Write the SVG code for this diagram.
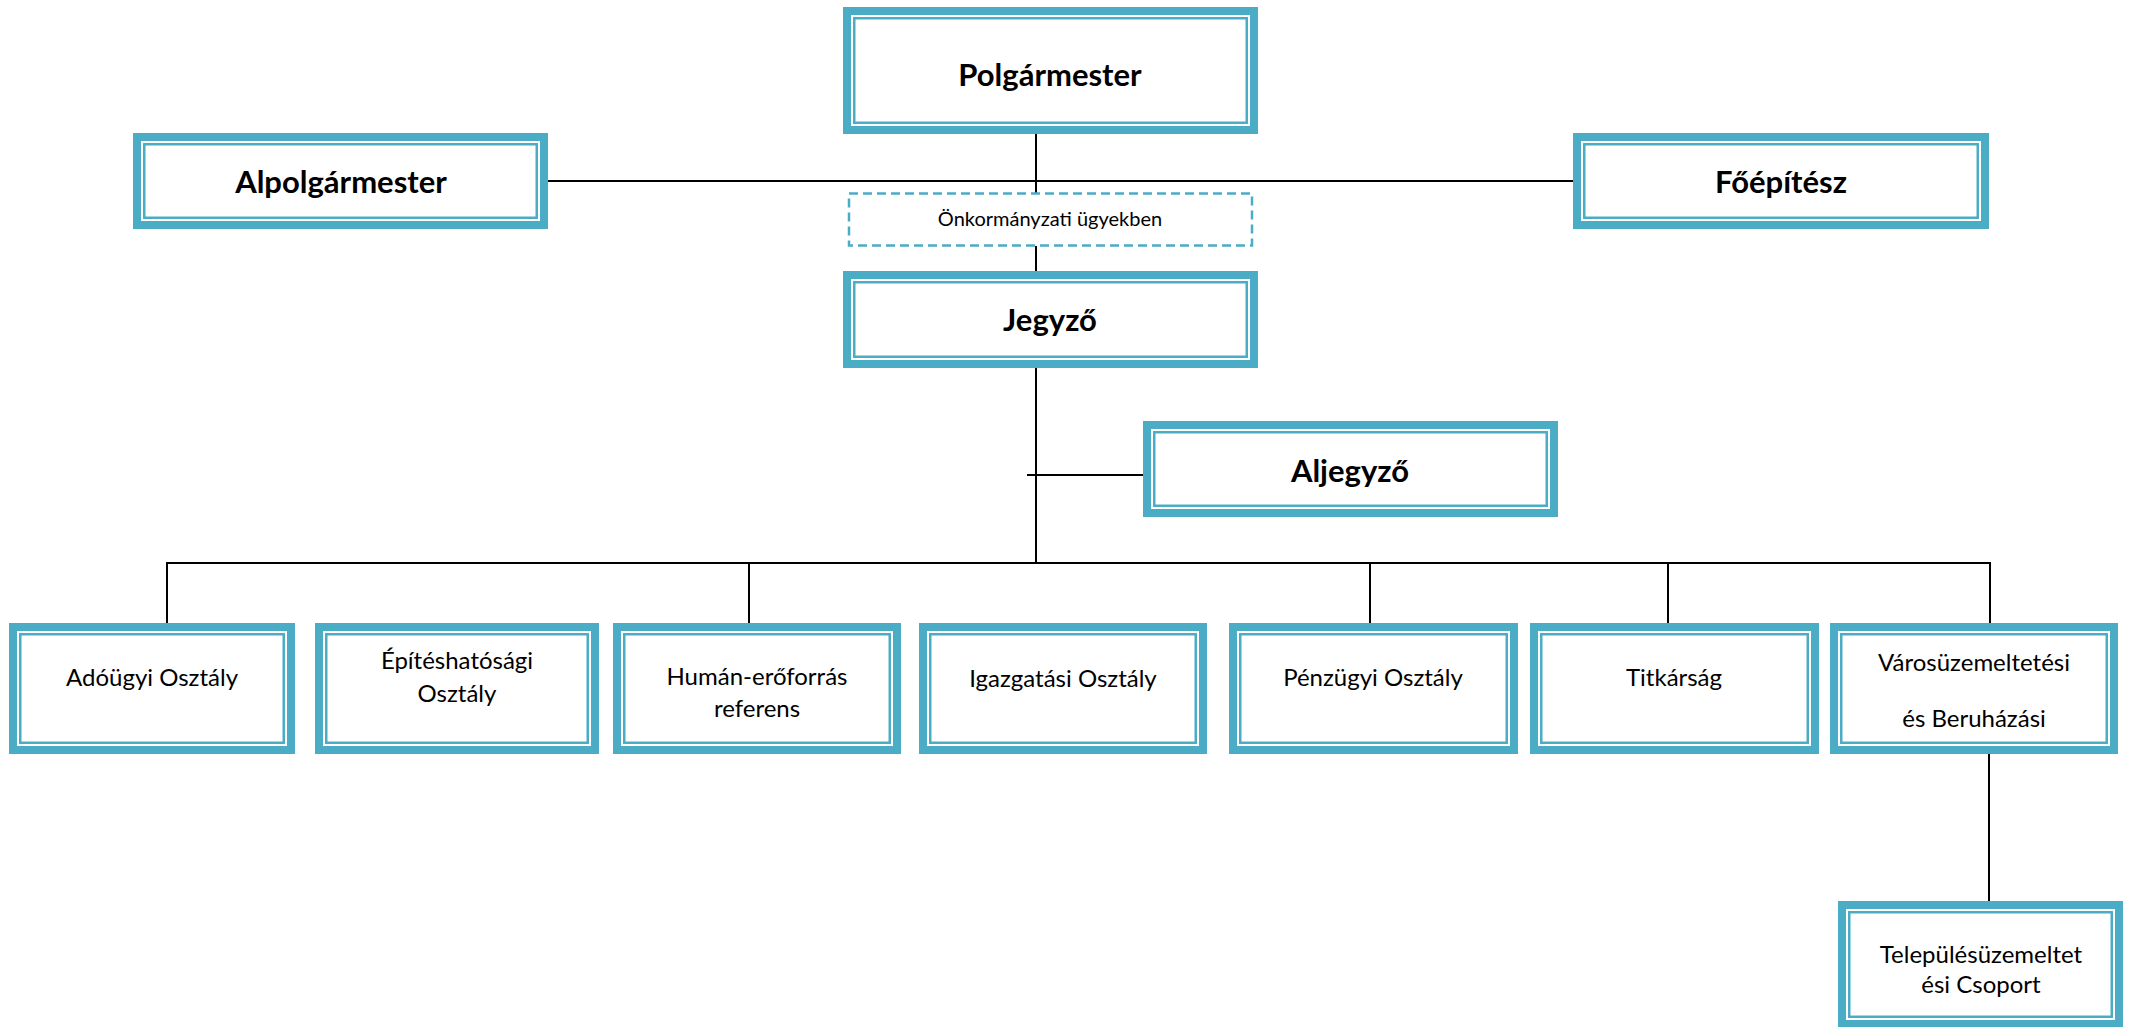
<svg xmlns="http://www.w3.org/2000/svg" width="2129" height="1027" viewBox="0 0 2129 1027">
<style>
.ob{fill:#ffffff;stroke:#4BACC6;stroke-width:8}
.ib{fill:none;stroke:#4BACC6;stroke-width:2.5}
.ln{stroke:#000;stroke-width:2;fill:none}
.dash{fill:#fff;stroke:#4BACC6;stroke-width:2.5;stroke-dasharray:9 5}
.tb{font-family:Lato,"Liberation Sans",sans-serif;font-weight:bold;font-size:31px;fill:#000;text-anchor:middle}
.tr{font-family:Lato,"Liberation Sans",sans-serif;font-size:24px;fill:#000;text-anchor:middle}
.ts{font-family:Lato,"Liberation Sans",sans-serif;font-size:20px;fill:#000;text-anchor:middle}
</style>
<rect width="2129" height="1027" fill="#fff"/>
<g id="connectors">
<line class="ln" x1="1036" y1="134" x2="1036" y2="193"/>
<line class="ln" x1="548" y1="181" x2="1573" y2="181"/>
<line class="ln" x1="1036" y1="246" x2="1036" y2="271"/>
<line class="ln" x1="1036" y1="368" x2="1036" y2="563"/>
<line class="ln" x1="1027" y1="475" x2="1143" y2="475"/>
<line class="ln" x1="166" y1="563" x2="1991" y2="563"/>
<line class="ln" x1="167" y1="562" x2="167" y2="623"/>
<line class="ln" x1="749" y1="563" x2="749" y2="623"/>
<line class="ln" x1="1370" y1="563" x2="1370" y2="623"/>
<line class="ln" x1="1668" y1="563" x2="1668" y2="623"/>
<line class="ln" x1="1990" y1="562" x2="1990" y2="623"/>
<line class="ln" x1="1989" y1="754" x2="1989" y2="901"/>
</g>
<g id="polgarmester">
<rect class="ob" x="847" y="11" width="407" height="119"/>
<rect class="ib" x="854.25" y="18.25" width="392.5" height="104.5"/>
<text class="tb" x="1050" y="86">Polgármester</text>
</g>
<g id="alpolgarmester">
<rect class="ob" x="137" y="137" width="407" height="88"/>
<rect class="ib" x="144.25" y="144.25" width="392.5" height="73.5"/>
<text class="tb" x="341" y="193">Alpolgármester</text>
</g>
<g id="foepitesz">
<rect class="ob" x="1577" y="137" width="408" height="88"/>
<rect class="ib" x="1584.25" y="144.25" width="393.5" height="73.5"/>
<text class="tb" x="1781" y="193">Főépítész</text>
</g>
<g id="onkormanyzati">
<rect class="dash" x="849" y="193.5" width="403" height="52"/>
<text class="ts" x="1050" y="226">Önkormányzati ügyekben</text>
</g>
<g id="jegyzo">
<rect class="ob" x="847" y="275" width="407" height="89"/>
<rect class="ib" x="854.25" y="282.25" width="392.5" height="74.5"/>
<text class="tb" x="1050" y="331">Jegyző</text>
</g>
<g id="aljegyzo">
<rect class="ob" x="1147" y="425" width="407" height="88"/>
<rect class="ib" x="1154.25" y="432.25" width="392.5" height="73.5"/>
<text class="tb" x="1350" y="482">Aljegyző</text>
</g>
<g id="adougyi">
<rect class="ob" x="13" y="627" width="278" height="123"/>
<rect class="ib" x="20.25" y="634.25" width="263.5" height="108.5"/>
<text class="tr" x="152" y="686">Adóügyi Osztály</text>
</g>
<g id="epiteshatosagi">
<rect class="ob" x="319" y="627" width="276" height="123"/>
<rect class="ib" x="326.25" y="634.25" width="261.5" height="108.5"/>
<text class="tr" x="457" y="669">Építéshatósági</text>
<text class="tr" x="457" y="702">Osztály</text>
</g>
<g id="human">
<rect class="ob" x="617" y="627" width="280" height="123"/>
<rect class="ib" x="624.25" y="634.25" width="265.5" height="108.5"/>
<text class="tr" x="757" y="685">Humán-erőforrás</text>
<text class="tr" x="757" y="717">referens</text>
</g>
<g id="igazgatasi">
<rect class="ob" x="923" y="627" width="280" height="123"/>
<rect class="ib" x="930.25" y="634.25" width="265.5" height="108.5"/>
<text class="tr" x="1063" y="687">Igazgatási Osztály</text>
</g>
<g id="penzugyi">
<rect class="ob" x="1233" y="627" width="281" height="123"/>
<rect class="ib" x="1240.25" y="634.25" width="266.5" height="108.5"/>
<text class="tr" x="1373" y="686">Pénzügyi Osztály</text>
</g>
<g id="titkarsag">
<rect class="ob" x="1534" y="627" width="281" height="123"/>
<rect class="ib" x="1541.25" y="634.25" width="266.5" height="108.5"/>
<text class="tr" x="1674" y="686">Titkárság</text>
</g>
<g id="varosuzemeltetesi">
<rect class="ob" x="1834" y="627" width="280" height="123"/>
<rect class="ib" x="1841.25" y="634.25" width="265.5" height="108.5"/>
<text class="tr" x="1974" y="671">Városüzemeltetési</text>
<text class="tr" x="1974" y="727">és Beruházási</text>
</g>
<g id="telepulesuzemeltetesi">
<rect class="ob" x="1842" y="905" width="277" height="119"/>
<rect class="ib" x="1849.25" y="912.25" width="262.5" height="104.5"/>
<text class="tr" x="1981" y="963">Településüzemeltet</text>
<text class="tr" x="1981" y="993">ési Csoport</text>
</g>
</svg>
